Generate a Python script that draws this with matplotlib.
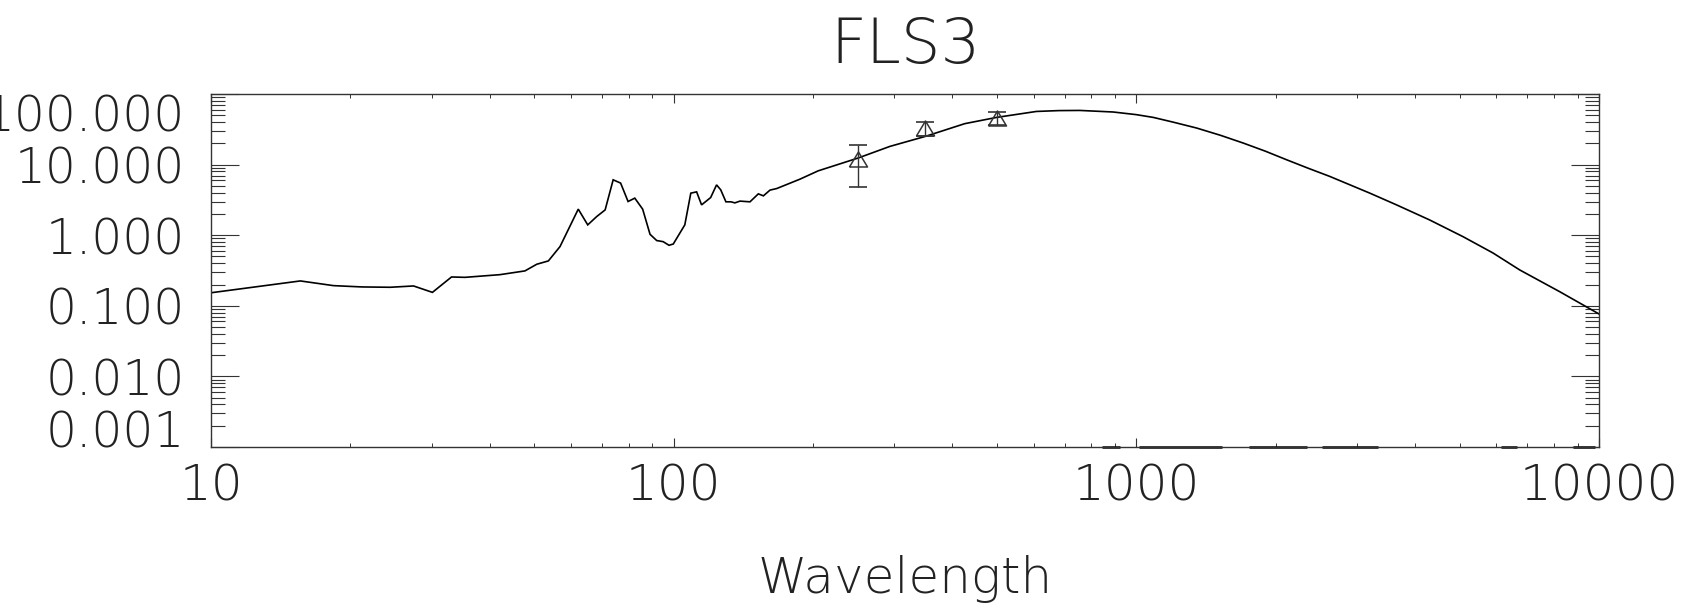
import matplotlib
matplotlib.use("Agg")
import matplotlib.pyplot as plt
from matplotlib.ticker import LogLocator, NullFormatter, FixedLocator, FixedFormatter

# Model SED (wavelength in micron, flux density)
wavelength = [10.0, 15.6, 18.4, 21.2, 24.4, 27.4, 30.1, 33.1, 35.4, 42.1, 47.7,
              50.6, 53.6, 56.8, 62.2, 65.2, 68.2, 71.1, 74.0, 76.8, 79.7, 82.4,
              85.7, 88.9, 91.9, 94.9, 97.7, 99.8, 105.7, 108.9, 112.1, 114.9,
              120.2, 123.8, 126.4, 129.7, 133.0, 135.6, 139.1, 146.2, 152.4,
              156.3, 161.5, 167.0, 187.5, 205.3, 250.5, 293.3, 350.0, 425.7,
              498.8, 608.0, 680.0, 755.0, 891.0, 1000.0, 1088.0, 1200.0, 1349.0,
              1520.0, 1702.0, 1900.0, 2113.0, 2350.0, 2619.0, 3197.0, 3650.0,
              4300.0, 5080.0, 5900.0, 6740.0, 8230.0, 10000.0]
flux = [0.153, 0.225, 0.193, 0.185, 0.183, 0.191, 0.155, 0.256, 0.253, 0.276,
        0.312, 0.388, 0.432, 0.690, 2.34, 1.40, 1.84, 2.28, 6.09, 5.47, 3.00,
        3.35, 2.34, 1.03, 0.84, 0.81, 0.72, 0.75, 1.40, 3.94, 4.11, 2.69, 3.41,
        5.16, 4.39, 2.97, 2.97, 2.87, 3.04, 2.97, 3.85, 3.61, 4.35, 4.58, 6.22,
        8.16, 12.4, 18.1, 25.1, 38.0, 46.6, 56.6, 58.2, 58.5, 55.6, 51.0, 46.6,
        40.0, 33.0, 26.0, 20.2, 15.5, 11.7, 8.9, 6.8, 3.94, 2.69, 1.65, 0.955,
        0.56, 0.322, 0.158, 0.0766]

# Photometry with errors
phot_wave = [250.0, 350.0, 500.0]
phot_flux = [12.0, 32.6, 46.2]
phot_err = [7.15, 7.5, 9.5]

# Faint component sitting on the lower bound of the flux range
faint_wave = [843, 922, None, 1013, 1531, None, 1751, 2337, None, 2518, 3327,
              None, 6137, 6646, None, 8781, 9796]

xticks = [10, 100, 1000, 10000]
xticklabels = ["10", "100", "1000", "10000"]
yticks = [0.001, 0.01, 0.1, 1.0, 10.0, 100.0]
yticklabels = ["0.001", "0.010", "0.100", "1.000", "10.000", "100.000"]

title = "FLS3"
xlabel = "Wavelength"

plt.rcParams["font.family"] = ["DejaVu Sans"]
text_color = "#222222"
font_w = "light"

fig = plt.figure(figsize=(16.91, 6.13), dpi=100)
ax = fig.add_axes([211 / 1691, 1 - 447 / 613, (1599 - 211) / 1691, (447 - 94) / 613])
ax.set_xscale("log")
ax.set_yscale("log")
ax.set_xlim(10, 10000)
ax.set_ylim(0.001, 100)

ax.plot(wavelength, flux, color="black", lw=1.2, solid_joinstyle="miter")

# faint component drawn along the lower bound
fx, fy = [], []
for w in faint_wave:
    fx.append(float("nan") if w is None else w)
    fy.append(float("nan") if w is None else 0.001)
ax.plot(fx, fy, color="black", lw=1.8, clip_on=False, solid_capstyle="butt")

tri = [(-1.0, -0.83), (0.0, 0.83), (1.0, -0.83), (-1.0, -0.83)]
ax.errorbar(phot_wave, phot_flux, yerr=phot_err, fmt="none", ecolor="#333333",
            elinewidth=1.0, capsize=6.5, capthick=1.2)
ax.plot(phot_wave, phot_flux, linestyle="none", marker=tri, markersize=13,
        markerfacecolor="none", markeredgecolor="#333333", markeredgewidth=1.1)

for s in ax.spines.values():
    s.set_linewidth(1.0)
    s.set_color("#333333")

ax.xaxis.set_major_locator(FixedLocator(xticks))
ax.xaxis.set_major_formatter(FixedFormatter(xticklabels))
ax.xaxis.set_minor_locator(LogLocator(base=10, subs=range(2, 10), numticks=20))
ax.xaxis.set_minor_formatter(NullFormatter())
ax.yaxis.set_major_locator(FixedLocator(yticks))
ax.yaxis.set_major_formatter(FixedFormatter(yticklabels))
ax.yaxis.set_minor_locator(LogLocator(base=10, subs=range(2, 10), numticks=20))
ax.yaxis.set_minor_formatter(NullFormatter())

ax.tick_params(axis="x", which="major", direction="in", length=6.5, width=0.8,
               top=True, bottom=True, labelsize=36, pad=11, colors="#333333",
               labelcolor=text_color)
ax.tick_params(axis="x", which="minor", direction="in", length=3, width=0.7,
               top=True, bottom=True, colors="#333333")
ax.tick_params(axis="y", which="major", direction="in", length=20, width=0.8,
               left=True, right=True, labelsize=35, pad=19, colors="#333333",
               labelcolor=text_color)
ax.tick_params(axis="y", which="minor", direction="in", length=10, width=0.8,
               left=True, right=True, colors="#333333")

for lab in ax.get_xticklabels() + ax.get_yticklabels():
    lab.set_fontweight(font_w)

ylabs = ax.get_yticklabels()
ylabs[0].set_verticalalignment("baseline")
ylabs[-1].set_verticalalignment("top")

ax.set_xlabel(xlabel, fontsize=36, color=text_color, labelpad=32, fontweight=font_w)
ax.set_title(title, fontsize=45, color=text_color, pad=22, fontweight=font_w)

fig.savefig("out.png", dpi=100)
